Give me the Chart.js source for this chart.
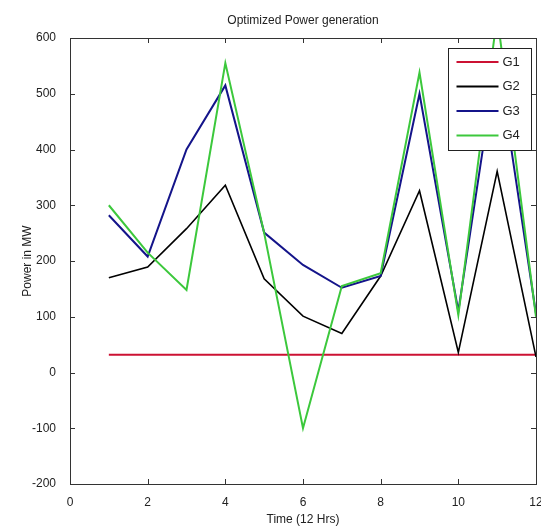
<!DOCTYPE html>
<html>
<head>
<meta charset="utf-8">
<script src="https://cdn.jsdelivr.net/npm/chart.js@4.4.1/dist/chart.umd.min.js"></script>
<style>
  body { margin: 0; background: #fff; }
  #wrap { width: 541px; height: 529px; }
</style>
</head>
<body>
<div id="wrap"><canvas id="powerChart" width="541" height="529"></canvas></div>
<script>
  // values
  const hours = [1, 2, 3, 4, 5, 6, 7, 8, 9, 10, 11, 12];
  const g1 = [32, 32, 32, 32, 32, 32, 32, 32, 32, 32, 32, 32];
  const g2 = [170, 189, 258, 336, 168, 101, 70, 173, 326, 36, 361, 28];
  const g3 = [282, 208, 400, 515, 251, 193, 152, 173, 500, 110, 570, 105];
  const g4 = [300, 215, 148, 555, 250, -100, 155, 178, 538, 103, 640, 100];
  const seriesNames = ['G1', 'G2', 'G3', 'G4'];
  const seriesColors = ['#cc1133', '#000000', '#14148a', '#3cc83c'];

  const xTicks = [0, 2, 4, 6, 8, 10, 12];
  const yTicks = [-200, -100, 0, 100, 200, 300, 400, 500, 600];

  const toPoints = (vals) => hours.map((h, i) => ({ x: h, y: vals[i] }));

  Chart.defaults.font.family = "'Liberation Sans', Arial, sans-serif";
  Chart.defaults.font.size = 12;
  Chart.defaults.color = '#222';

  // matlab-like frame with inward ticks, plus a boxed legend inside the axes
  const matlabFrame = {
    id: 'matlabFrame',
    afterDatasetsDraw(chart) {
      const { ctx, chartArea: a, scales } = chart;
      ctx.save();
      ctx.strokeStyle = '#333';
      ctx.lineWidth = 1;
      ctx.strokeRect(a.left + 0.5, a.top + 0.5, a.right - a.left, a.bottom - a.top);
      const t = 5;
      ctx.beginPath();
      xTicks.forEach(v => {
        const px = Math.round(scales.x.getPixelForValue(v)) + 0.5;
        ctx.moveTo(px, a.bottom); ctx.lineTo(px, a.bottom - t);
        ctx.moveTo(px, a.top); ctx.lineTo(px, a.top + t);
      });
      yTicks.forEach(v => {
        const py = Math.round(scales.y.getPixelForValue(v)) + 0.5;
        ctx.moveTo(a.left, py); ctx.lineTo(a.left + t, py);
        ctx.moveTo(a.right, py); ctx.lineTo(a.right - t, py);
      });
      ctx.stroke();

      // legend box
      const bx = 448.5, by = 48.5, bw = 83, bh = 102;
      ctx.fillStyle = '#fff';
      ctx.fillRect(bx, by, bw, bh);
      ctx.strokeStyle = '#222';
      ctx.strokeRect(bx, by, bw, bh);
      ctx.font = "13px 'Liberation Sans', Arial, sans-serif";
      ctx.textBaseline = 'middle';
      seriesNames.forEach((name, i) => {
        const y = 62 + i * 24.5;
        ctx.strokeStyle = seriesColors[i];
        ctx.lineWidth = 2;
        ctx.beginPath();
        ctx.moveTo(bx + 8, y); ctx.lineTo(bx + 50, y);
        ctx.stroke();
        ctx.fillStyle = '#222';
        ctx.fillText(name, bx + 54, y);
      });
      ctx.restore();
    }
  };

  const ctx = document.getElementById('powerChart').getContext('2d');
  new Chart(ctx, {
    type: 'line',
    data: {
      datasets: [
        { label: 'G1', data: toPoints(g1), borderColor: seriesColors[0], borderWidth: 2, order: 3 },
        { label: 'G2', data: toPoints(g2), borderColor: seriesColors[1], borderWidth: 1.6, order: 2 },
        { label: 'G3', data: toPoints(g3), borderColor: seriesColors[2], borderWidth: 2, order: 1 },
        { label: 'G4', data: toPoints(g4), borderColor: seriesColors[3], borderWidth: 2, order: 0 }
      ]
    },
    options: {
      responsive: false,
      animation: false,
      devicePixelRatio: 1,
      elements: { point: { radius: 0 }, line: { tension: 0 } },
      layout: { padding: { left: 0, right: 5, top: 0, bottom: 0 } },
      plugins: {
        legend: { display: false },
        tooltip: { enabled: false },
        title: {
          display: true,
          fullSize: false,
          text: 'Optimized Power generation',
          font: { size: 12, weight: 'normal' },
          color: '#222',
          padding: { top: 13, bottom: 10.6 }
        }
      },
      scales: {
        x: {
          type: 'linear',
          min: 0,
          max: 12,
          grid: { display: false },
          border: { display: false },
          ticks: { stepSize: 2, padding: 3, maxRotation: 0 },
          title: { display: true, text: 'Time (12 Hrs)', padding: { top: 0, bottom: 2 } },
          afterFit(scale) {
            scale.height = 45;
            scale.paddingLeft = 0;
            scale.paddingRight = 0;
          }
        },
        y: {
          min: -200,
          max: 600,
          grid: { display: false },
          border: { display: false },
          ticks: { stepSize: 100, padding: 6 },
          title: { display: true, text: 'Power in MW', padding: { top: 20, bottom: 0 } },
          afterFit(scale) {
            scale.width = 70;
            scale.paddingTop = 0;
            scale.paddingBottom = 0;
          }
        }
      }
    },
    plugins: [matlabFrame]
  });
</script>
</body>
</html>
